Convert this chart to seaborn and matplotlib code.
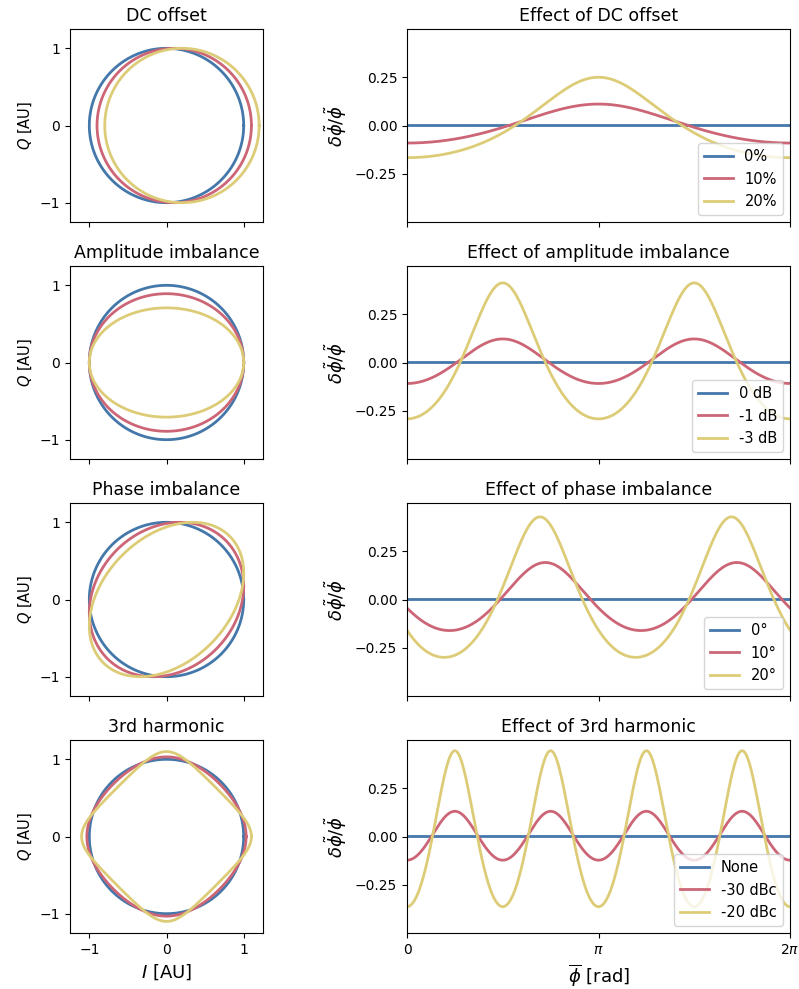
import numpy as np
import pandas as pd
import matplotlib
matplotlib.use("Agg")
import matplotlib.pyplot as plt
import seaborn as sns

# ---------------- data ----------------
colors = ["#4477AA", "#CC6677", "#DDCC77"]

dc_offset_frac = [0.0, 0.10, 0.20]
dc_labels = ["0%", "10%", "20%"]

amp_imbalance_db = [0.0, -1.0, -3.0]
amp_labels = ["0 dB", "-1 dB", "-3 dB"]

phase_imbalance_deg = [0.0, 10.0, 20.0]
phase_labels = ["0°", "10°", "20°"]

harmonic_dbc = [-np.inf, -30.0, -20.0]
harmonic_labels = ["None", "-30 dBc", "-20 dBc"]

left_titles = ["DC offset", "Amplitude imbalance", "Phase imbalance", "3rd harmonic"]
right_titles = ["Effect of DC offset", "Effect of amplitude imbalance",
                "Effect of phase imbalance", "Effect of 3rd harmonic"]

phase_grid = np.linspace(0, 2 * np.pi, 1441)


# ---------------- IQ models ----------------
def iq_dc(p, d):
    return np.cos(p) + d, np.sin(p)


def iq_amp(p, db):
    a = 10 ** (db / 20)
    return np.cos(p), a * np.sin(p)


def iq_phase(p, deg):
    t = np.deg2rad(deg)
    return np.cos(p), np.sin(p + t)


def iq_harm(p, dbc):
    a = 0.0 if np.isinf(dbc) else 10 ** (dbc / 20)
    z = np.exp(1j * p) + a * np.exp(-3j * p)
    return z.real, z.imag


cases = [
    (iq_dc, dc_offset_frac, dc_labels),
    (iq_amp, amp_imbalance_db, amp_labels),
    (iq_phase, phase_imbalance_deg, phase_labels),
    (iq_harm, harmonic_dbc, harmonic_labels),
]

# ---------------- figure ----------------
W, H = 799, 989
fig = plt.figure(figsize=(W / 100, H / 100), dpi=100)

row_tops = [29, 266, 503, 740]
box_h = 193
left_x, left_w = 70, 193
right_x, right_w = 407, 383

TITLE_FS = 12.5
QLABEL_FS = 10.5
XLABEL_FS = 13
RYLABEL_FS = 13
TICK_FS = 10
LEG_FS = 10.5

for r, (func, params, labels) in enumerate(cases):
    b = 1 - (row_tops[r] + box_h) / H
    axL = fig.add_axes([left_x / W, b, left_w / W, box_h / H])
    axR = fig.add_axes([right_x / W, b, right_w / W, box_h / H])

    iq_rows = []
    err_rows = []
    for p_val, lab in zip(params, labels):
        I, Q = func(phase_grid, p_val)
        ph = np.unwrap(np.arctan2(Q, I))
        err = np.gradient(ph, phase_grid) - 1
        iq_rows.append(pd.DataFrame({"I": I, "Q": Q, "label": lab}))
        err_rows.append(pd.DataFrame({"phi": phase_grid, "err": err, "label": lab}))
    df_iq = pd.concat(iq_rows, ignore_index=True)
    df_err = pd.concat(err_rows, ignore_index=True)
    pal = dict(zip(labels, colors))

    sns.lineplot(data=df_iq, x="I", y="Q", hue="label", hue_order=labels,
                 palette=pal, sort=False, estimator=None, lw=2,
                 legend=False, ax=axL)
    sns.lineplot(data=df_err, x="phi", y="err", hue="label", hue_order=labels,
                 palette=pal, sort=False, estimator=None, lw=2, ax=axR)
    sns.move_legend(axR, "lower right", title=None, fontsize=LEG_FS)

    axL.set_xlim(-1.25, 1.25)
    axL.set_ylim(-1.25, 1.25)
    axL.set_xticks([-1, 0, 1])
    axL.set_yticks([-1, 0, 1])
    axL.set_title(left_titles[r], fontsize=TITLE_FS)
    axL.set_ylabel("$Q$ [AU]", fontsize=QLABEL_FS)
    axL.tick_params(labelsize=TICK_FS)

    axR.set_xlim(0, 2 * np.pi)
    axR.set_ylim(-0.5, 0.5)
    axR.set_yticks([-0.25, 0, 0.25])
    axR.set_xticks([0, np.pi, 2 * np.pi])
    axR.set_title(right_titles[r], fontsize=TITLE_FS)
    axR.set_ylabel(r"$\delta\tilde{\phi}/\tilde{\phi}$", fontsize=RYLABEL_FS)
    axR.tick_params(labelsize=TICK_FS)

    if r < 3:
        axL.set_xlabel("")
        axR.set_xlabel("")
        axL.set_xticklabels([])
        axR.set_xticklabels([])
    else:
        axL.set_xlabel("$I$ [AU]", fontsize=XLABEL_FS)
        axR.set_xticklabels(["0", r"$\pi$", r"$2\pi$"])
        axR.set_xlabel(r"$\overline{\phi}$ [rad]", fontsize=XLABEL_FS)

fig.savefig("out.png", dpi=100)
